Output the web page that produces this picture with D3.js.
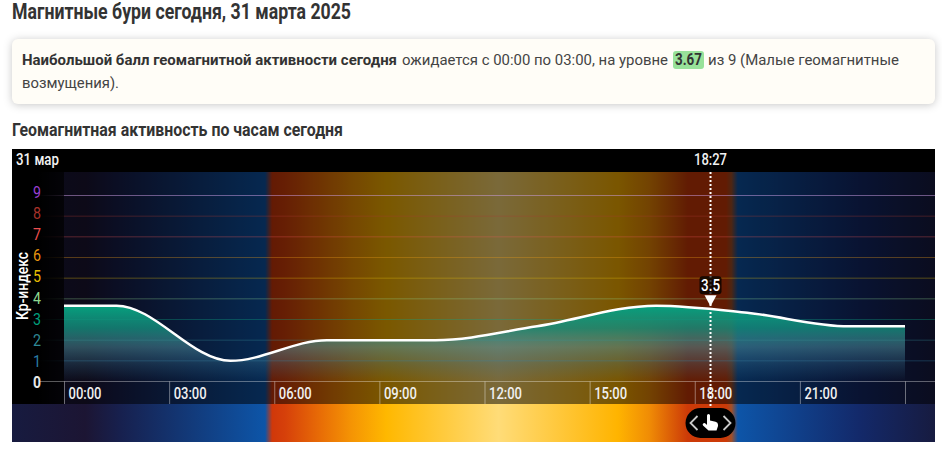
<!DOCTYPE html>
<html lang="ru"><head><meta charset="utf-8">
<script src="https://cdn.jsdelivr.net/npm/d3@7"></script>
<style>html,body{margin:0;padding:0;background:#fff}svg{display:block}text{font-family:Roboto,sans-serif}</style>
</head><body><div id="chart"></div>
<script>
const hours=[0,1.5,4.75,7.5,10.6,13.5,16.9,19.5,22.4,24];
const kp=[3.67,3.67,1,2,2,2.67,3.67,3.33,2.67,2.67];
const tickHours=[0,3,6,9,12,15,18,21,24];
const tickLabels=["00:00","03:00","06:00","09:00","12:00","15:00","18:00","21:00",""];
const levels=[0,1,2,3,4,5,6,7,8,9];
const levelColors=["#e8e8e8","#2a7da6","#2f8a96","#00a07e","#8fd88f","#e6bd00","#e8960f","#ee4f4f","#a8322a","#9a3fd0"];
const skyHours=[-1.48,0.6,1.6,5.74,5.94,6.3,7.3,8.2,9.2,12.4,15.8,16.7,17.8,18.9,19.05,19.23,22.7,24.86];
const skyColors=["#171b40","#1c1533","#17204e","#0d55a8","#d0380a","#d6400a","#e86c06","#f59404","#ffb800","#ffdc78","#ffb400","#f08c05","#cc3a08","#cc3a08","#a0502a","#0d55a8","#13296a","#171b40"];
const nowHour=18.45, nowValue=3.5;

const W=942,H=463;
const x=d3.scaleLinear().domain([0,24]).range([64,905]);
const y=d3.scaleLinear().domain([0,9]).range([381.5,195.5]);
const yLabels=d3.scaleLinear().domain([0,9]).range([382,192]);
const svg=d3.select("#chart").append("svg").attr("width",W).attr("height",H);
const defs=svg.append("defs");

const sky=defs.append("linearGradient").attr("id","sky").attr("gradientUnits","userSpaceOnUse")
  .attr("x1",x(skyHours[0])).attr("x2",x(skyHours[skyHours.length-1])).attr("y1",0).attr("y2",0);
skyHours.forEach((h,i)=>sky.append("stop")
  .attr("offset",(h-skyHours[0])/(skyHours[skyHours.length-1]-skyHours[0])).attr("stop-color",skyColors[i]));

const areaGrad=defs.append("linearGradient").attr("id","areaGrad").attr("gradientUnits","userSpaceOnUse")
  .attr("x1",0).attr("x2",0).attr("y1",y(3.67)).attr("y2",y(0));
[[0,"#06a07e",1],[0.3,"#158c7c",0.82],[0.55,"#4f92a0",0.5],[0.8,"#3f7fa0",0.22],[1,"#3f7fa0",0]].forEach(s=>
  areaGrad.append("stop").attr("offset",s[0]).attr("stop-color",s[1]).attr("stop-opacity",s[2]));

const fade=defs.append("linearGradient").attr("id","fade");
[[0,1],[0.5,1],[1,0.7]].forEach(s=>fade.append("stop").attr("offset",s[0]).attr("stop-color","#000").attr("stop-opacity",s[1]));

function label(g,str,px,py,opts={}){
  const t=g.append("text").attr("x",px).attr("y",py).text(str)
    .attr("font-size",opts.size||15).attr("font-weight",opts.weight||400).attr("fill",opts.fill||"#444")
    .attr("text-anchor",opts.anchor||"start");
  if(opts.len)t.attr("textLength",opts.len).attr("lengthAdjust","spacingAndGlyphs");
  return t;
}

// headings and note
const head=svg.append("g");
label(head,"Магнитные бури сегодня, 31 марта 2025",12,19,{size:21.5,weight:700,fill:"#333",len:339});
head.append("rect").attr("x",12).attr("y",39).attr("width",923).attr("height",65).attr("rx",6)
  .attr("fill","#fffdf7").style("filter","drop-shadow(0 1px 4px rgba(0,0,0,.22))");
label(head,"Наибольшой балл геомагнитной активности сегодня",22,65,{weight:700,fill:"#333",len:375});
label(head,"ожидается с 00:00 по 03:00, на уровне",402,65,{len:266});
head.append("rect").attr("x",673).attr("y",51).attr("width",31).attr("height",18).attr("rx",3).attr("fill","#98e29a");
label(head,"3.67",675,65,{size:16,weight:700,fill:"#333",len:27});
label(head,"из 9 (Малые геомагнитные",708,65,{len:191});
label(head,"возмущения).",22,88,{len:97});
label(head,"Геомагнитная активность по часам сегодня",12,136,{size:18,weight:700,fill:"#333",len:331});

// backgrounds
svg.append("rect").attr("x",12).attr("y",172).attr("width",923).attr("height",270).attr("fill","url(#sky)");
svg.append("rect").attr("x",12).attr("y",172).attr("width",923).attr("height",232).attr("fill","#000").attr("opacity",.52);

// level lines
svg.append("g").selectAll("line").data(levels.slice(1)).join("line")
  .attr("x1",40).attr("x2",935).attr("y1",d=>y(d)).attr("y2",d=>y(d))
  .attr("stroke",d=>d3.interpolateRgb(levelColors[d],"#fff")(d===9?.5:.05)).attr("stroke-opacity",d=>d===9?.5:.35);

svg.append("rect").attr("x",12).attr("y",172).attr("width",52).attr("height",232).attr("fill","url(#fade)");
svg.append("rect").attr("x",12).attr("y",149).attr("width",923).attr("height",23).attr("fill","#000");

// area and line
const curve=d3.curveMonotoneX;
const series=hours.map((h,i)=>({h,v:kp[i]}));
svg.append("path").datum(series).attr("fill","url(#areaGrad)")
  .attr("d",d3.area().x(d=>x(d.h)).y0(y(0)).y1(d=>y(d.v)).curve(curve));
svg.append("path").datum(series).attr("fill","none").attr("stroke","#fff").attr("stroke-width",2.5)
  .attr("d",d3.line().x(d=>x(d.h)).y(d=>y(d.v)).curve(curve));

// x axis
const xAxis=svg.append("g").attr("transform",`translate(0,${y(0)})`)
  .call(d3.axisBottom(x).tickValues(tickHours).tickSize(22.5).tickFormat((d,i)=>tickLabels[i]));
xAxis.select(".domain").remove();
xAxis.selectAll(".tick line").attr("stroke","#fff").attr("stroke-opacity",.4);
xAxis.selectAll(".tick text").attr("x",4).attr("y",17).attr("text-anchor","start").attr("dy",0)
  .attr("fill","#f0f0f0").attr("font-size",16).attr("font-weight",500)
  .style("font-family","Roboto").attr("textLength",33).attr("lengthAdjust","spacingAndGlyphs");
svg.append("line").attr("x1",40).attr("x2",935).attr("y1",y(0)).attr("y2",y(0)).attr("stroke","#fff").attr("stroke-opacity",.35);

// y axis
const yAxis=svg.append("g").attr("transform","translate(41,0)")
  .call(d3.axisLeft(yLabels).tickValues(levels).tickSize(0).tickPadding(0).tickFormat(d3.format("d")));
yAxis.select(".domain").remove();
yAxis.selectAll(".tick text").attr("dy",0).attr("y",5.5).attr("font-size",16).attr("text-anchor","middle").attr("x",-4)
  .style("font-family","Roboto").attr("fill",d=>levelColors[d])
  .attr("textLength",8).attr("lengthAdjust","spacingAndGlyphs").attr("font-weight",d=>d===0?700:400);

label(svg,"Кр-индекс",0,0,{size:16,weight:500,fill:"#fff",anchor:"middle",len:68})
  .attr("transform","translate(28,286) rotate(-90)");

// top bar
label(svg,"31 мар",16,165,{size:16,weight:500,fill:"#f2f2f2",len:43});
label(svg,"18:27",x(nowHour),165,{size:16,weight:500,fill:"#f2f2f2",anchor:"middle",len:33});

// now marker
svg.append("line").attr("x1",x(nowHour)).attr("x2",x(nowHour)).attr("y1",172).attr("y2",408)
  .attr("stroke","#fff").attr("stroke-width",2).attr("stroke-dasharray","2 2");
const ny=y(nowValue);
svg.append("rect").attr("x",x(nowHour)-11).attr("y",ny-33).attr("width",22).attr("height",18).attr("rx",3)
  .attr("fill","#000").attr("fill-opacity",.78);
label(svg,"3.5",x(nowHour),ny-18.5,{size:16,weight:500,fill:"#fff",anchor:"middle",len:19});
svg.append("path").attr("d",`M${x(nowHour)-6},${ny-14}h12l-6,11z`).attr("fill","#fff");

// slider handle
const hx=x(nowHour);
const h=svg.append("g").attr("transform",`translate(${hx},423)`);
h.append("rect").attr("x",-25).attr("y",-15).attr("width",50).attr("height",30).attr("rx",15).attr("fill","#000");
h.append("path").attr("d","M-13,-7L-20,0L-13,7M13,-7L20,0L13,7").attr("fill","none").attr("stroke","#c9c9c9").attr("stroke-width",1.8);
h.append("path").attr("d","M-3.5,-7.5a1.5,1.5 0 0 1 3,0V-2.5l5.5,1.2q2.5,.6 2.5,3V3l-1.5,4.5H-2L-7.5,2.5q-1,-1.5 .5,-2.3q1.2,-.5 2.2,.6l1.3,1.2z")
  .attr("fill","#fff");
</script></body></html>
